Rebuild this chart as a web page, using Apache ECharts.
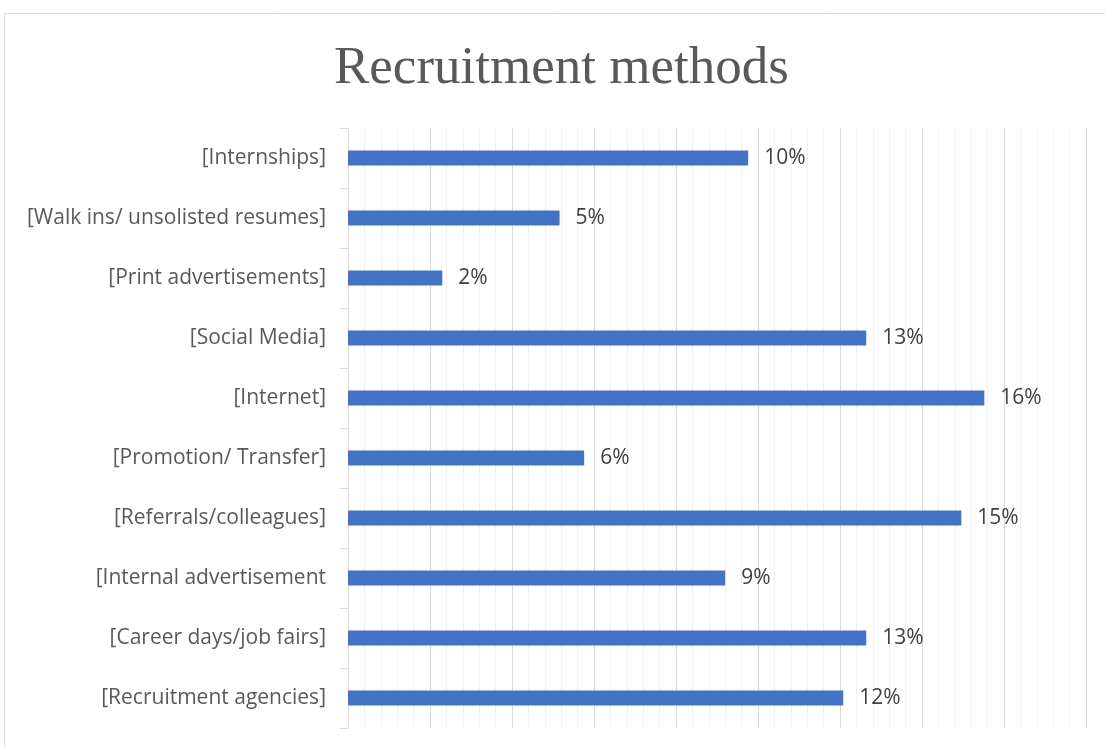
<!DOCTYPE html>
<html>
<head>
<meta charset="utf-8">
<script src="https://cdn.jsdelivr.net/npm/echarts@6/dist/echarts.min.js"></script>
<style>
  html, body { margin: 0; padding: 0; background: #fff; }
  #main { width: 1105px; height: 747px; }
</style>
</head>
<body>
<div id="main"></div>
<script>
// categories listed bottom to top (as the axis draws them)
var methods = [
    '[Recruitment agencies]',
    '[Career days/job fairs]',
    '[Internal advertisement',
    '[Referrals/colleagues]',
    '[Promotion/ Transfer]',
    '[Internet]',
    '[Social Media]',
    '[Print advertisements]',
    '[Walk ins/ unsolisted resumes]',
    '[Internships]'
];
// share of responses, percent
var shares = [12.08, 12.64, 9.2, 14.96, 5.76, 15.52, 12.64, 2.3, 5.16, 9.76];

var axisMax = 18;
var axisStep = 2;

var myChart = echarts.init(document.getElementById('main'));
myChart.setOption({
    animation: false,
    title: {
        text: 'Recruitment methods',
        left: 329,
        top: 38,
        textStyle: {
            fontFamily: '"Liberation Serif", serif',
            fontWeight: 'normal',
            fontSize: 53,
            color: '#595959'
        }
    },
    graphic: [{
        type: 'rect',
        shape: { x: 4.5, y: 13.5, width: 1120, height: 760 },
        style: { fill: 'none', stroke: '#d9d9d9', lineWidth: 1 },
        silent: true
    }],
    grid: {
        left: 348,
        right: 19,
        top: 128,
        bottom: 19
    },
    xAxis: {
        type: 'value',
        min: 0,
        max: axisMax,
        interval: axisStep,
        axisLabel: { show: false },
        axisLine: { show: false },
        axisTick: { show: false },
        splitLine: { lineStyle: { color: '#d9d9d9', width: 1 } },
        minorTick: { show: false, splitNumber: 5 },
        minorSplitLine: { show: true, lineStyle: { color: '#f0f0f0', width: 1 } }
    },
    yAxis: {
        type: 'category',
        data: methods,
        axisLine: { lineStyle: { color: '#d9d9d9' } },
        axisTick: { show: true, length: 8, lineStyle: { color: '#d9d9d9' } },
        axisLabel: {
            margin: 22,
            fontFamily: '"Open Sans", sans-serif',
            fontSize: 21,
            color: '#595959'
        }
    },
    series: [{
        type: 'bar',
        data: shares,
        barWidth: 15,
        itemStyle: { color: '#4472c4' },
        label: {
            show: true,
            position: 'right',
            distance: 16,
            fontFamily: '"Open Sans", sans-serif',
            fontSize: 21,
            color: '#404040',
            formatter: function (p) { return Math.round(p.value) + '%'; }
        }
    }]
});
</script>
</body>
</html>
